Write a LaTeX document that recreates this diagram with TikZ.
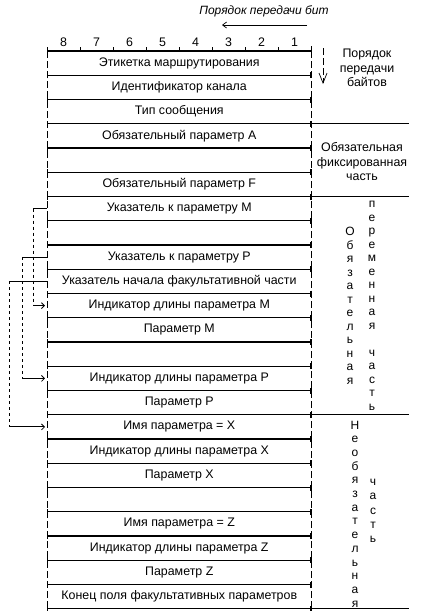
\documentclass[tikz,border=0pt]{standalone}
\usepackage{fontspec}
\setmainfont{Liberation Sans}
\usetikzlibrary{positioning, arrows.meta, calc}
\tikzstyle{field} =[minimum width=264.5pt, minimum height=24.25pt, inner sep=0pt, outer sep=0pt, font=\fontsize{12.4}{14}\selectfont,
  append after command={(\tikzlastnode.south west) edge[draw, line width=1.1pt, {Bar[width=6pt]}-{Bar[width=6pt]}] (\tikzlastnode.south east)}]
\tikzstyle{sidetext} =[align=center, inner sep=0pt, font=\fontsize{12.4}{14.5}\selectfont]
\tikzstyle{vtext} =[align=center, inner sep=0pt, font=\fontsize{12}{13.5}\selectfont]
\tikzstyle{pointer} =[line width=0.8pt]

\begin{document}
\begin{tikzpicture}[x=1pt, y=-1pt]
\useasboundingbox (0,0) rectangle (421,611);

\node (r1) [field, anchor=north west] at (47,51) {Этикетка маршрутирования};
\node (r2) [field, below=0pt of r1] {Идентификатор канала};
\node (r3) [field, below=0pt of r2] {Тип сообщения};
\node (r4) [field, below=0pt of r3] {Обязательный параметр A};
\node (r5) [field, below=0pt of r4] {};
\node (r6) [field, below=0pt of r5] {Обязательный параметр F};
\node (r7) [field, below=0pt of r6] {Указатель к параметру M};
\node (r8) [field, below=0pt of r7] {};
\node (r9) [field, below=0pt of r8] {Указатель к параметру P};
\node (r10) [field, below=0pt of r9] {Указатель начала факультативной части};
\node (r11) [field, below=0pt of r10] {Индикатор длины параметра M};
\node (r12) [field, below=0pt of r11] {Параметр M};
\node (r13) [field, below=0pt of r12] {};
\node (r14) [field, below=0pt of r13] {Индикатор длины параметра P};
\node (r15) [field, below=0pt of r14] {Параметр P};
\node (r16) [field, below=0pt of r15] {Имя параметра = X};
\node (r17) [field, below=0pt of r16] {Индикатор длины параметра X};
\node (r18) [field, below=0pt of r17] {Параметр X};
\node (r19) [field, below=0pt of r18] {};
\node (r20) [field, below=0pt of r19] {Имя параметра = Z};
\node (r21) [field, below=0pt of r20] {Индикатор длины параметра Z};
\node (r22) [field, below=0pt of r21] {Параметр Z};
\node (r23) [field, below=0pt of r22] {Конец поля факультативных параметров};

% side borders
\draw[dash pattern=on 7pt off 3pt, line width=0.8pt] (r1.north west) -- (r23.south west);
\draw[dash pattern=on 7pt off 3pt, line width=0.8pt] (r1.north east) -- (r23.south east);

% bit ruler
\draw[line width=1.1pt] (r1.north west) -- (r1.north east);
\foreach \bit [count=\col from 0] in {8,7,...,1} {
  \draw[line width=0.8pt] ($(r1.north west)+(33*\col,0)$) -- ++(0,-4);
  \node (bit\bit) [font=\fontsize{12.4}{14}\selectfont] at ($(r1.north west)+(33*\col+16.5,-9)$) {\bit};
}
\draw[line width=0.8pt] (r1.north east) -- ++(0,-5);

\node (bitOrder) [font=\fontsize{12}{14}\selectfont\itshape] at (264,11) {Порядок передачи бит};
\coordinate (bitFrom) at (307,25);
\coordinate (bitTo) at (222,25);
\draw[-{Straight Barb[length=4pt, width=6pt]}, line width=0.7pt] (bitFrom) -- (bitTo);

% byte order
\node (byteOrder) [sidetext] at (367,68) {Порядок\\передачи\\байтов};
\coordinate (byteFrom) at (323,48);
\coordinate (byteTo) at (323,84);
\draw[-{Straight Barb[length=10pt, width=8pt]}, dash pattern=on 7pt off 3pt, line width=0.7pt] (byteFrom) -- (byteTo);

% part separators
\draw[line width=1.1pt] (r3.south east) -- ++(97,0);
\draw[line width=1.1pt] (r6.south east) -- ++(97,0);
\draw[line width=1.1pt] (r15.south east) -- ++(97,0);
\draw[line width=1.1pt] (r23.south east) -- ++(97,0);

\node (fixedPart) [sidetext] at (362,162) {Обязательная\\фиксированная\\часть};

\node (mandWord) [vtext] at (350,306) {О\\б\\я\\з\\а\\т\\е\\л\\ь\\н\\а\\я};
\node (varWord) [vtext] at (372,306) {п\\е\\р\\е\\м\\е\\н\\н\\а\\я\\[13.5pt]ч\\а\\с\\т\\ь};
\node (optWord) [vtext, font=\fontsize{12}{13.7}\selectfont] at (355,514) {Н\\е\\о\\б\\я\\з\\а\\т\\е\\л\\ь\\н\\а\\я};
\node (partWord) [vtext, font=\fontsize{12}{14.2}\selectfont] at (373,511) {ч\\а\\с\\т\\ь};

% pointers
\coordinate (mTurn) at ($(r7.west)+(-14,0)$);
\coordinate (mDown) at (mTurn |- r11.west);
\draw[pointer] (r7.west) -- (mTurn);
\draw[pointer, dashed] (mTurn) -- (mDown);
\draw[pointer, -{Straight Barb[length=3pt, width=6pt]}, shorten >=2pt] (mDown) -- (r11.west);

\coordinate (pTurn) at ($(r9.west)+(-25,0)$);
\coordinate (pDown) at (pTurn |- r14.west);
\draw[pointer] (r9.west) -- (pTurn);
\draw[pointer, dashed] (pTurn) -- (pDown);
\draw[pointer, -{Straight Barb[length=3pt, width=6pt]}, shorten >=2pt] (pDown) -- (r14.west);

\coordinate (optTurn) at ($(r10.west)+(-38,0)$);
\coordinate (optDown) at (optTurn |- r16.west);
\draw[pointer] (r10.west) -- (optTurn);
\draw[pointer, dashed] (optTurn) -- (optDown);
\draw[pointer, -{Straight Barb[length=3pt, width=6pt]}, shorten >=2pt] (optDown) -- (r16.west);

\end{tikzpicture}
\end{document}
